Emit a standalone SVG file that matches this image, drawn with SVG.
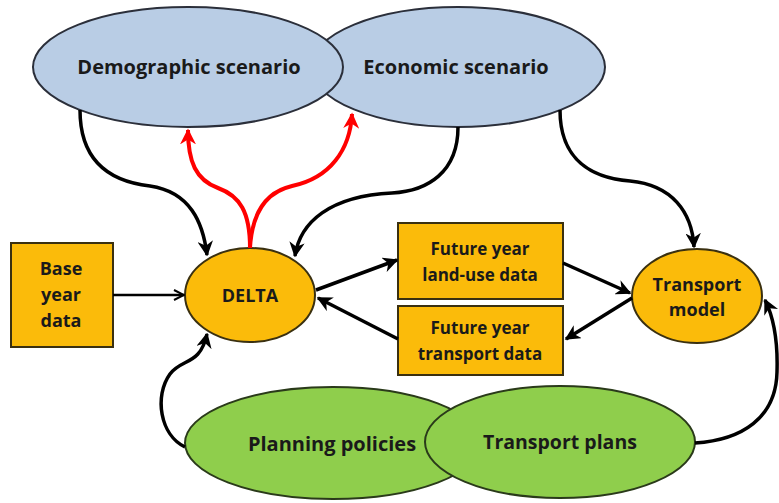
<svg xmlns="http://www.w3.org/2000/svg" width="779" height="503" viewBox="0 0 779 503">
<defs>
<style>
.t{font-family:"Open Sans","Liberation Sans",sans-serif;font-weight:bold;fill:#1a1a1a;text-anchor:middle}
.blue{fill:#b9cde5;stroke:#2b2f3a;stroke-width:2}
.green{fill:#8fce4c;stroke:#2a3a1a;stroke-width:2}
.org{fill:#fbbb0a;stroke:#3a3010;stroke-width:2}
.c{fill:none;stroke:#000;stroke-width:3.5}
.thin{fill:none;stroke:#000;stroke-width:2.5}
.red{fill:none;stroke:#ff0000;stroke-width:4}
</style>
<marker id="ah" viewBox="0 0 10 10" refX="9" refY="5" markerWidth="4.4" markerHeight="4.4" orient="auto" markerUnits="strokeWidth">
<path d="M0,0 L10,5 L0,10 L3,5 Z" fill="#000"/>
</marker>
<marker id="ahr" viewBox="0 0 10 10" refX="9" refY="5" markerWidth="4" markerHeight="4" orient="auto" markerUnits="strokeWidth">
<path d="M0,0 L10,5 L0,10 L3,5 Z" fill="#ff0000"/>
</marker>
<marker id="open" viewBox="0 0 10 10" refX="9" refY="5" markerWidth="5" markerHeight="5" orient="auto" markerUnits="strokeWidth">
<path d="M1,1 L9,5 L1,9" fill="none" stroke="#000" stroke-width="1.6"/>
</marker>
</defs>
<rect width="779" height="503" fill="#fff"/>

<g id="economic">
<ellipse class="blue" cx="458" cy="67" rx="147" ry="60"/>
<text class="t" x="456" y="74" font-size="20">Economic scenario</text>
</g>
<g id="demographic">
<ellipse class="blue" cx="188" cy="67" rx="155" ry="60"/>
<text class="t" x="189" y="74" font-size="20">Demographic scenario</text>
</g>

<g id="planning">
<ellipse class="green" cx="333" cy="443" rx="148" ry="56"/>
<text class="t" x="332" y="451" font-size="20">Planning policies</text>
</g>
<g id="transportplans">
<ellipse class="green" cx="560" cy="442" rx="135" ry="56"/>
<text class="t" x="560" y="449" font-size="19.5">Transport plans</text>
</g>

<g id="base">
<rect class="org" x="11" y="243" width="102" height="104"/>
<text class="t" x="61" y="275" font-size="18">Base</text>
<text class="t" x="61" y="301" font-size="18">year</text>
<text class="t" x="61" y="327" font-size="18">data</text>
</g>
<g id="delta">
<ellipse class="org" cx="250" cy="295" rx="65" ry="47"/>
<text class="t" x="250" y="302" font-size="18">DELTA</text>
</g>
<g id="landuse">
<rect class="org" x="398" y="223" width="165" height="76"/>
<text class="t" x="480" y="255" font-size="17">Future year</text>
<text class="t" x="480" y="281" font-size="17">land-use data</text>
</g>
<g id="transportdata">
<rect class="org" x="398" y="306" width="165" height="69"/>
<text class="t" x="480" y="334" font-size="17">Future year</text>
<text class="t" x="480" y="360" font-size="17">transport data</text>
</g>
<g id="transportmodel">
<ellipse class="org" cx="697" cy="296" rx="65" ry="47"/>
<text class="t" x="697" y="291" font-size="18">Transport</text>
<text class="t" x="697" y="316" font-size="18">model</text>
</g>

<g id="connectors">
<path class="c" marker-end="url(#ah)" d="M80,110 C80,165 115,182 150,186 C190,192 203,222 207,255"/>
<path class="c" marker-end="url(#ah)" d="M458,127 C458,172 428,191 392,193 C330,196 300,222 295,256"/>
<path class="c" marker-end="url(#ah)" d="M560,110 C560,160 592,178 630,181 C672,185 692,212 694,247"/>
<path class="red" marker-end="url(#ahr)" d="M250,248 C250,212 240,196 218,188 C196,180 188,162 188,130"/>
<path class="red" marker-end="url(#ahr)" d="M250,248 C252,212 266,192 292,186 C330,178 350,150 352,114"/>
<path class="thin" marker-end="url(#open)" d="M113,295 L184,295"/>
<path class="c" marker-end="url(#ah)" d="M316,290 L397,260"/>
<path class="c" marker-end="url(#ah)" d="M398,339 L318,298"/>
<path class="c" marker-end="url(#ah)" d="M563,263 L630,293"/>
<path class="c" marker-end="url(#ah)" d="M632,298 L566,339"/>
<path class="c" marker-end="url(#ah)" d="M185,447 C160,435 154,396 170,374 C182,358 200,366 207,334"/>
<path class="c" marker-end="url(#ah)" d="M695,443 C742,440 776,418 777,372 C778,340 773,316 765,300"/>
</g>
</svg>
